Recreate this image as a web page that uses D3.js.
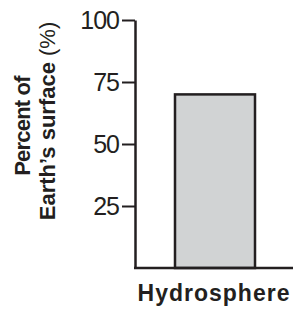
<!DOCTYPE html>
<html>
<head>
<meta charset="utf-8">
<script src="https://cdn.jsdelivr.net/npm/d3@7"></script>
<style>
  body { margin: 0; background: #fff; }
  svg { display: block; font-family: "Liberation Sans", Arial, sans-serif; }
</style>
</head>
<body>
<svg id="chart" width="295" height="316"></svg>
<script>
const categories = ["Hydrosphere"];
const values = [70];
const tickValues = [25, 50, 75, 100];

const ink = "#231f20";
const svg = d3.select("#chart");

const y = d3.scaleLinear()
    .domain([0, 100])
    .range([268, 20]);

const x = d3.scaleBand()
    .domain(categories)
    .range([135, 295])
    .paddingInner(0.5)
    .paddingOuter(0.25);

// bar
svg.selectAll("rect.bar")
    .data(values)
    .enter()
    .append("rect")
    .attr("class", "bar")
    .attr("x", (d, i) => x(categories[i]))
    .attr("y", d => y(d))
    .attr("width", x.bandwidth())
    .attr("height", d => y(0) - y(d))
    .attr("fill", "#d1d3d4")
    .attr("stroke", ink)
    .attr("stroke-width", 2.5);

// y axis
const yAxis = svg.append("g")
    .attr("transform", "translate(135,0)")
    .call(d3.axisLeft(y)
        .tickValues(tickValues)
        .tickSize(13)
        .tickSizeOuter(0)
        .tickPadding(3));

yAxis.select(".domain").attr("stroke", ink).attr("stroke-width", 2.5);
yAxis.selectAll(".tick line").attr("stroke", ink).attr("stroke-width", 2);
yAxis.selectAll(".tick text")
    .attr("fill", ink)
    .attr("font-size", 25)
    .attr("font-family", "Liberation Sans, Arial, sans-serif")
    .attr("letter-spacing", -1)
    .attr("dy", "0.35em");

// x axis baseline
svg.append("line")
    .attr("x1", 134)
    .attr("x2", 293)
    .attr("y1", y(0))
    .attr("y2", y(0))
    .attr("stroke", ink)
    .attr("stroke-width", 2.5);

// category label
svg.selectAll("text.cat")
    .data(categories)
    .enter()
    .append("text")
    .attr("class", "cat")
    .attr("x", d => x(d) + x.bandwidth() / 2 - 1)
    .attr("y", 301)
    .attr("text-anchor", "middle")
    .attr("font-size", 23)
    .attr("font-weight", "bold")
    .attr("letter-spacing", 1)
    .attr("fill", ink)
    .text(d => d);

// y label, two lines
const yl = svg.append("g")
    .attr("transform", "rotate(-90)")
    .attr("fill", ink)
    .attr("text-anchor", "middle");

yl.append("text")
    .attr("x", -126)
    .attr("y", 30)
    .attr("font-size", 22)
    .attr("font-weight", "bold")
    .attr("letter-spacing", -0.8)
    .text("Percent of");

const l2 = yl.append("text")
    .attr("x", -121)
    .attr("y", 55)
    .attr("font-size", 22);
l2.append("tspan").attr("font-weight", "bold").text("Earth\u2019s surface");
l2.append("tspan").text(" (%)");
</script>
</body>
</html>
